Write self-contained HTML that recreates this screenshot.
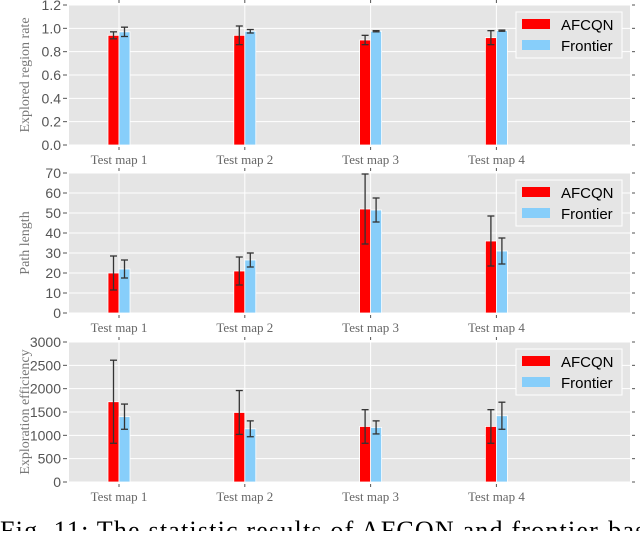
<!DOCTYPE html>
<html><head><meta charset="utf-8"><style>
body{margin:0;background:#fff;width:640px;height:531px;overflow:hidden}
svg text{font-family:"Liberation Sans",sans-serif}
</style></head><body>
<svg id="c" width="640" height="531"></svg>
<script>
const categories=["Test map 1","Test map 2","Test map 3","Test map 4"];
const rateA=[0.94,0.94,0.90,0.92], rateAErr=[0.03,0.08,0.04,0.06];
const rateF=[0.97,0.975,0.975,0.98], rateFErr=[0.04,0.015,0.005,0.005];
const pathA=[20,21,52,36], pathAErr=[8.5,7,17.5,12.5];
const pathF=[22,26.5,51.5,31], pathFErr=[4.5,3.5,6,6.5];
const effA=[1720,1490,1190,1190], effAErr=[890,470,360,360];
const effF=[1400,1140,1170,1420], effFErr=[270,170,140,290];
const rateTicks=[0,0.2,0.4,0.6,0.8,1.0,1.2];
const pathTicks=[0,10,20,30,40,50,60,70];
const effTicks=[0,500,1000,1500,2000,2500,3000];
const NS="http://www.w3.org/2000/svg";
const svg=document.getElementById('c');
function mk(t,a,p){const e=document.createElementNS(NS,t);for(const k in a)e.setAttribute(k,a[k]);(p||svg).appendChild(e);return e;}
const L=69,R=630,X0=119,DX=125.8,BW=11;
function xs(i){return X0+i*DX;}
function panel(o){
  const g=mk('g',{});
  
  
  const max=o.ticks[o.ticks.length-1];
  const ys=v=>o.bot-(v/max)*(o.bot-o.top);
  const bg=mk('rect',{x:L,y:o.top,width:R-L,height:o.bot-o.top,fill:'#e5e5e5'},g);
  
  o.ticks.forEach((t,k)=>{const y=ys(t);
    mk('line',{x1:L,x2:R,y1:y,y2:y,stroke:'#fff','stroke-width':1},g);
    mk('line',{x1:L-6,x2:L-2,y1:y,y2:y,stroke:'#555'},g);
    mk('line',{x1:R+2,x2:R+5,y1:y,y2:y,stroke:'#555'},g);
    const tx=mk('text',{x:L-8,y:y+5,'text-anchor':'end','font-size':14,fill:'#555'},g);
    tx.textContent=o.tickLabels[k];
    
  });
  categories.forEach((c,i)=>{const x=xs(i);
    mk('line',{x1:x,x2:x,y1:o.top,y2:o.bot,stroke:'#fff'},g);
    mk('line',{x1:x,x2:x,y1:o.top-5,y2:o.top-2,stroke:'#555'},g);
    mk('line',{x1:x,x2:x,y1:o.bot+2,y2:o.bot+5,stroke:'#555'},g);
    const tx=mk('text',{x:x,y:o.bot+19,'text-anchor':'middle','font-size':13,fill:'#666',style:'font-family:"Liberation Serif",serif'},g);
    tx.textContent=c;
  });
  function bars(vals,errs,off,col,nm){
    vals.forEach((v,i)=>{const x=xs(i)+off;
      const b=mk('rect',{x:x,y:ys(v),width:BW,height:o.bot-ys(v),fill:col,stroke:'#fff','stroke-width':0.8},g);
      
      const cx=x+BW/2,y1=ys(Math.min(max,v+errs[i])),y2=ys(Math.max(0,v-errs[i]));
      mk('line',{x1:cx,x2:cx,y1:y1,y2:y2,stroke:'#333','stroke-width':1.3},g);
      mk('line',{x1:cx-3.5,x2:cx+3.5,y1:y1,y2:y1,stroke:'#333','stroke-width':1.3},g);
      mk('line',{x1:cx-3.5,x2:cx+3.5,y1:y2,y2:y2,stroke:'#333','stroke-width':1.3},g);
    });
  }
  bars(o.a,o.ae,-BW,'#ff0000','afcqn');
  bars(o.f,o.fe,0,'#87cefa','frontier');
  const lg=mk('g',{},g);
  const ly=o.top+7;
  mk('rect',{x:516,y:ly,width:106,height:46,fill:'#e5e5e5',stroke:'#fff','stroke-width':1},lg);
  [['AFCQN','#ff0000'],['Frontier','#87cefa']].forEach((e,k)=>{
    mk('rect',{x:522,y:ly+7+k*21,width:28,height:10,fill:e[1]},lg);
    const t=mk('text',{x:561,y:ly+18+k*21,'font-size':15,fill:'#000'},lg);t.textContent=e[0];
    
  });
  const yl=mk('text',{transform:`translate(${o.lx},${(o.top+o.bot)/2}) rotate(-90)`,'text-anchor':'middle','font-size':14,fill:'#777',style:'font-family:"Liberation Serif",serif'},g);
  yl.textContent=o.label;
}
panel({name:'explored-rate-panel',top:5,bot:145,ticks:rateTicks,tickLabels:rateTicks.map(t=>t.toFixed(1)),a:rateA,ae:rateAErr,f:rateF,fe:rateFErr,label:'Explored region rate',lx:29});
panel({name:'path-length-panel',top:173,bot:313,ticks:pathTicks,tickLabels:pathTicks.map(String),a:pathA,ae:pathAErr,f:pathF,fe:pathFErr,label:'Path length',lx:29});
panel({name:'exploration-efficiency-panel',top:342,bot:482,ticks:effTicks,tickLabels:effTicks.map(String),a:effA,ae:effAErr,f:effF,fe:effFErr,label:'Exploration efficiency',lx:29});
const cap=mk('text',{x:0,y:539,'font-size':26,'letter-spacing':1.2,fill:'#000',style:'font-family:"Liberation Serif",serif'});
cap.textContent='Fig. 11: The statistic results of AFCQN and frontier-based';


</script>
</body></html>
